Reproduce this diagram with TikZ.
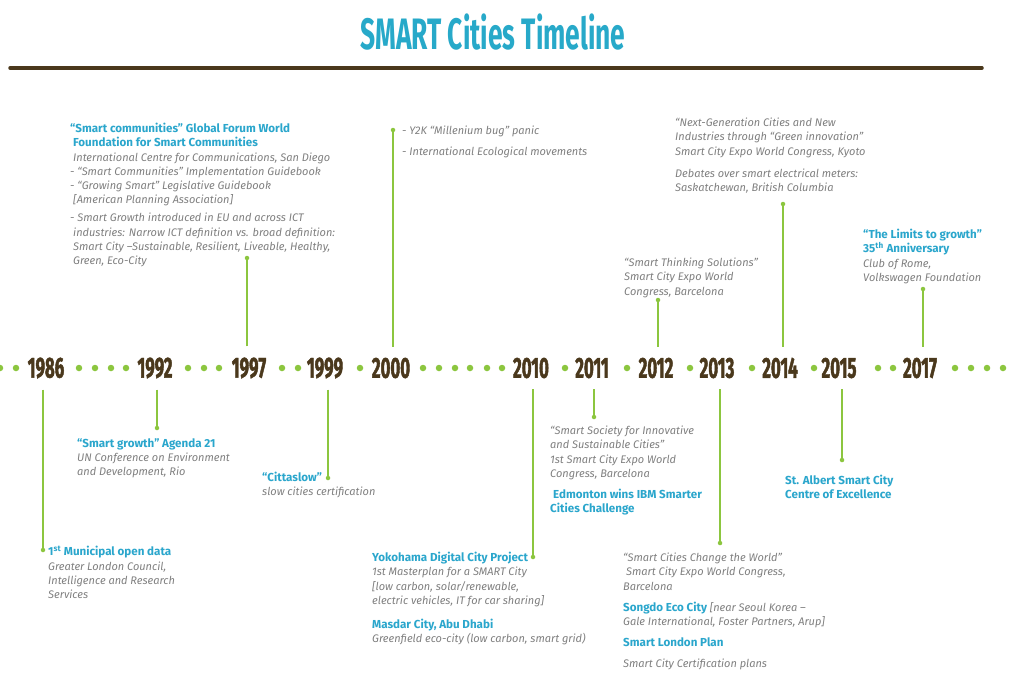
\documentclass[tikz,border=0pt]{standalone}
\usepackage{fontspec}
\setmainfont{Fira Sans}
\newfontfamily\yearfont[FakeStretch=0.58,FakeBold=1.5]{Fira Sans}
\newfontfamily\titlefont[FakeStretch=0.6]{Fira Sans}
\definecolor{titlecyan}{HTML}{27A9C9}
\definecolor{headcyan}{HTML}{2AA6CC}
\definecolor{bodygray}{HTML}{808080}
\definecolor{dotgreen}{HTML}{8CC63F}
\definecolor{yearbrown}{HTML}{4A381C}
\newcommand{\headtxt}[1]{{\color{headcyan}\fontsize{11.6}{14.2}\selectfont\bfseries\upshape #1}}
\tikzset{
  yr/.style={font=\yearfont\bfseries\fontsize{29}{29}\selectfont, text=yearbrown, inner xsep=0pt, inner ysep=11pt},
  tdot/.style={circle, fill=dotgreen, minimum size=6.5pt, inner sep=0pt},
  edot/.style={circle, fill=dotgreen, minimum size=4.5pt, inner sep=0pt},
  conn/.style={draw=dotgreen, line width=2pt},
  blurb/.style={anchor=north west, inner sep=0pt, align=left, text=bodygray,
    font=\fontsize{11}{14.2}\selectfont\itshape},
}
\begin{document}
\begin{tikzpicture}[x=1pt,y=-1pt]
\useasboundingbox (0,0) rectangle (1016,697);
\fill[white] (0,0) rectangle (1016,697);

% heading and rule
\node[font=\titlefont\bfseries\fontsize{44}{44}\selectfont, text=titlecyan] (title) at (493,32) {SMART Cities Timeline};
\draw[line width=3.5pt, yearbrown, line cap=round] (10,68) coordinate (ruleL) -- (982,68) coordinate (ruleR);

% dotted timeline
\foreach \dx in {0,16,79,95,111,126,188,204,219,282,298,360,423,439,455,470,487,502,565,627,690,752,814,878,893,955,971,987,1003}
  \node[tdot] at (\dx,368) {};

% years
\node[yr] (y1986) at (46,368) {1986};
\node[yr] (y1992) at (155,368) {1992};
\node[yr] (y1997) at (249,368) {1997};
\node[yr] (y1999) at (325,368) {1999};
\node[yr] (y2000) at (391,368) {2000};
\node[yr] (y2010) at (531,368) {2010};
\node[yr] (y2011) at (592,368) {2011};
\node[yr] (y2012) at (656,368) {2012};
\node[yr] (y2013) at (717,368) {2013};
\node[yr] (y2014) at (780,368) {2014};
\node[yr] (y2015) at (839,368) {2015};
\node[yr] (y2017) at (920,368) {2017};

% connector end dots
\node[edot] (d1986) at (43,550) {};
\node[edot] (d1992) at (157,428) {};
\node[edot] (d1997) at (247,258) {};
\node[edot] (d1999) at (328,478) {};
\node[edot] (d2000) at (393,130) {};
\node[edot] (d2010) at (533,557) {};
\node[edot] (d2011) at (594,417) {};
\node[edot] (d2012) at (658,300) {};
\node[edot] (d2013) at (720,543) {};
\node[edot] (d2014) at (783,204) {};
\node[edot] (d2015) at (842,460) {};
\node[edot] (d2017) at (923,289) {};

% connectors
\draw[conn] (y1986.south -| d1986) -- (d1986);
\draw[conn] (y1992.south -| d1992) -- (d1992);
\draw[conn] (y1997.north -| d1997) -- (d1997);
\draw[conn] (y1999.south -| d1999) -- (d1999);
\draw[conn] (y2000.north -| d2000) -- (d2000);
\draw[conn] (y2010.south -| d2010) -- (d2010);
\draw[conn] (y2011.south -| d2011) -- (d2011);
\draw[conn] (y2012.north -| d2012) -- (d2012);
\draw[conn] (y2013.south -| d2013) -- (d2013);
\draw[conn] (y2014.north -| d2014) -- (d2014);
\draw[conn] (y2015.south -| d2015) -- (d2015);
\draw[conn] (y2017.north -| d2017) -- (d2017);

% events above the line
\node[blurb] (e1997) at (70,123) {%
\headtxt{“Smart communities” Global Forum World}\\
\hspace*{3pt}\headtxt{Foundation for Smart Communities}\\
\hspace*{3pt}International Centre for Communications, San Diego\\
- “Smart Communities” Implementation Guidebook\\
- “Growing Smart” Legislative Guidebook\\
\hspace*{3pt}[American Planning Association]\\[4pt]
- Smart Growth introduced in EU and across ICT\\
\hspace*{3pt}industries: Narrow ICT definition vs. broad definition:\\
\hspace*{3pt}Smart City –Sustainable, Resilient, Liveable, Healthy,\\
\hspace*{3pt}Green, Eco-City};

\node[blurb] (e2000) at (402,126) {%
- Y2K “Millenium bug” panic\\[7pt]
- International Ecological movements};

\node[blurb] (e2014) at (675,118) {%
“Next-Generation Cities and New\\
Industries through “Green innovation”\\
Smart City Expo World Congress, Kyoto\\[8pt]
Debates over smart electrical meters:\\
Saskatchewan, British Columbia};

\node[blurb] (e2012) at (624,258) {%
“Smart Thinking Solutions”\\
Smart City Expo World\\
Congress, Barcelona};

\node[blurb] (e2017) at (863,229) {%
\headtxt{“The Limits to growth”}\\
\headtxt{35\textsuperscript{th} Anniversary}\\
Club of Rome,\\
Volkswagen Foundation};

% events below the line
\node[blurb] (e1986) at (48,546) {%
\headtxt{1\textsuperscript{st} Municipal open data}\\
Greater London Council,\\
Intelligence and Research\\
Services};

\node[blurb] (e1992) at (77,438) {%
\headtxt{“Smart growth” Agenda 21}\\
UN Conference on Environment\\
and Development, Rio};

\node[blurb] (e1999) at (262,472) {%
\headtxt{“Cittaslow”}\\
slow cities certification};

\node[blurb] (e2010) at (372,552) {%
\headtxt{Yokohama Digital City Project}\\
1st Masterplan for a SMART City\\
{[}low carbon, solar/renewable,\\
electric vehicles, IT for car sharing]\\[10pt]
\headtxt{Masdar City, Abu Dhabi}\\
Greenfield eco-city (low carbon, smart grid)};

\node[blurb] (e2011) at (550,426) {%
“Smart Society for Innovative\\
and Sustainable Cities”\\
1st Smart City Expo World\\
Congress, Barcelona\\[7pt]
\hspace*{3pt}\headtxt{Edmonton wins IBM Smarter}\\
\headtxt{Cities Challenge}};

\node[blurb] (e2013) at (623,553) {%
“Smart Cities Change the World”\\
\hspace*{3pt}Smart City Expo World Congress,\\
Barcelona\\[7pt]
\headtxt{Songdo Eco City} [near Seoul Korea –\\
Gale International, Foster Partners, Arup]\\[7pt]
\headtxt{Smart London Plan}\\[7pt]
Smart City Certification plans};

\node[blurb] (e2015) at (785,475) {%
\headtxt{St. Albert Smart City}\\
\headtxt{Centre of Excellence}};
\end{tikzpicture}
\end{document}
